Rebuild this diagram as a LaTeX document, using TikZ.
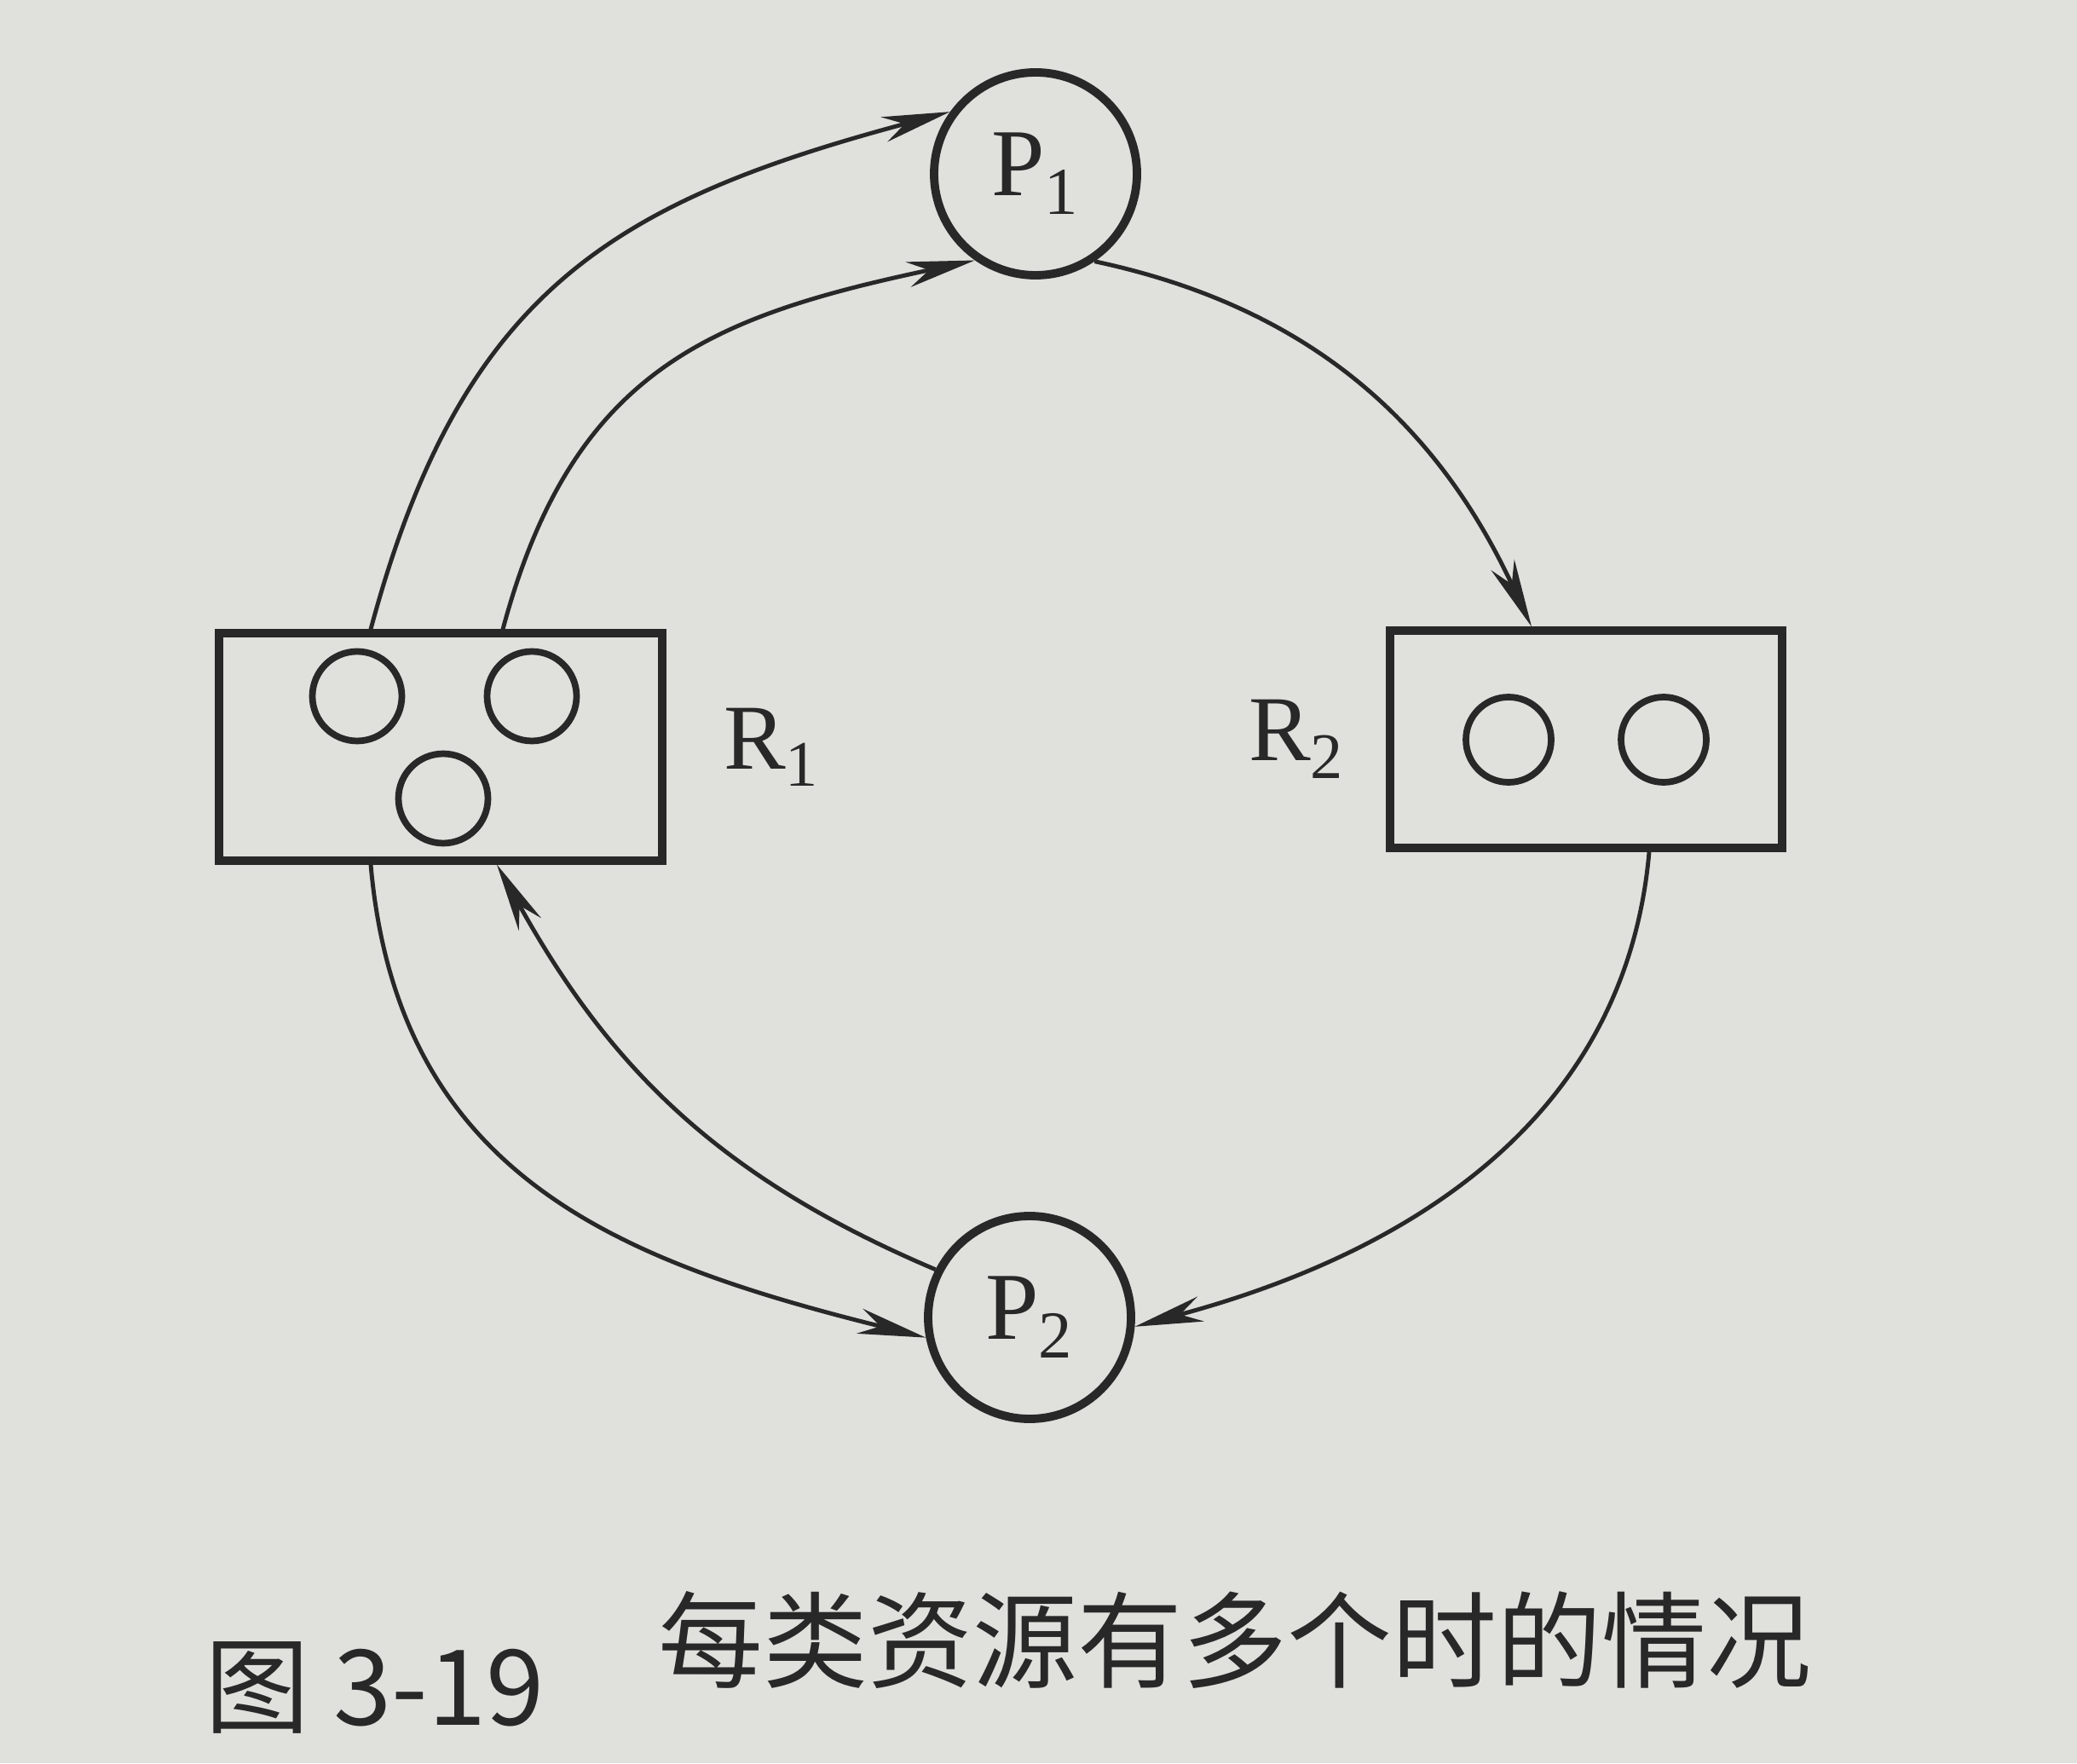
\documentclass[tikz,border=0pt]{standalone}
\usepackage{fontspec}
\setmainfont{Liberation Serif}
\newfontfamily\cjk{Noto Sans CJK SC}
\usepackage{xcolor}
\usetikzlibrary{positioning,arrows.meta}
\definecolor{paper}{RGB}{224,225,221}
\definecolor{ink}{RGB}{40,40,40}

\begin{document}
\begin{tikzpicture}[>={Stealth[length=8mm,width=3mm,inset=2.5mm]}, ink,
        proc/.style = {draw, circle, line width=2.8pt, minimum size=2.38cm, inner sep=0pt, font=\fontsize{32}{36}\selectfont},
        res/.style = {draw, rectangle, line width=2.6pt, inner sep=0pt},
        unit/.style = {draw, circle, line width=2.2pt, minimum size=1.05cm, inner sep=0pt},
        lbl/.style = {inner sep=0pt, font=\fontsize{31}{36}\selectfont},
        link/.style = {->, line width=1.4pt},
        figcap/.style = {anchor=base west, inner sep=0pt, font=\cjk\fontsize{35}{40}\selectfont}]
        \fill[paper] (0,0) rectangle (24.37,20.69);
        \useasboundingbox (0,0) rectangle (24.37,20.69);

        \node[proc] (P1) at (12.15,18.65) {P\textsubscript{1}};
        \node[proc] (P2) at (12.08,5.23) {P\textsubscript{2}};
        \node[res, minimum width=5.20cm, minimum height=2.67cm] (R1) at (5.17,11.925) {};
        \node[res, minimum width=4.60cm, minimum height=2.55cm] (R2) at (18.61,12.015) {};
        \node[lbl] (R1lbl) [right=0.67cm of R1] {R\textsubscript{1}};
        \node[lbl] (R2lbl) [left=0.48cm of R2] {R\textsubscript{2}};

        % units of each resource
        \node[unit] (R1a) at (4.19,12.52) {};
        \node[unit] (R1b) at (6.24,12.52) {};
        \node[unit] (R1c) at (5.20,11.32) {};
        \node[unit, minimum size=1.0cm] (R2a) at (17.70,12.01) {};
        \node[unit, minimum size=1.0cm] (R2b) at (19.52,12.01) {};

        \draw[link] ([xshift=-0.82cm]R1.north) to[out=75, in=195, looseness=1.15] (P1.144);
        \draw[link] ([xshift=0.73cm]R1.north) to[out=75, in=192, looseness=1.15] (P1.235);
        \draw[link] (P1.304) to[out=-12, in=115] ([xshift=-0.64cm]R2.north);
        \draw[link] ([xshift=0.74cm]R2.south) to[out=265, in=15] (P2.355);
        \draw[link] ([xshift=-0.82cm]R1.south) to[out=275, in=166, looseness=1.1] (P2.191);
        \draw[link] (P2.153) to[out=157, in=-61] ([xshift=0.66cm]R1.south);

        \node[figcap] (fignum) at (2.40,0.45) {图 3-19};
        \node[figcap] (figtitle) at (7.72,0.98) {每类资源有多个时的情况};
    \end{tikzpicture}
\end{document}
